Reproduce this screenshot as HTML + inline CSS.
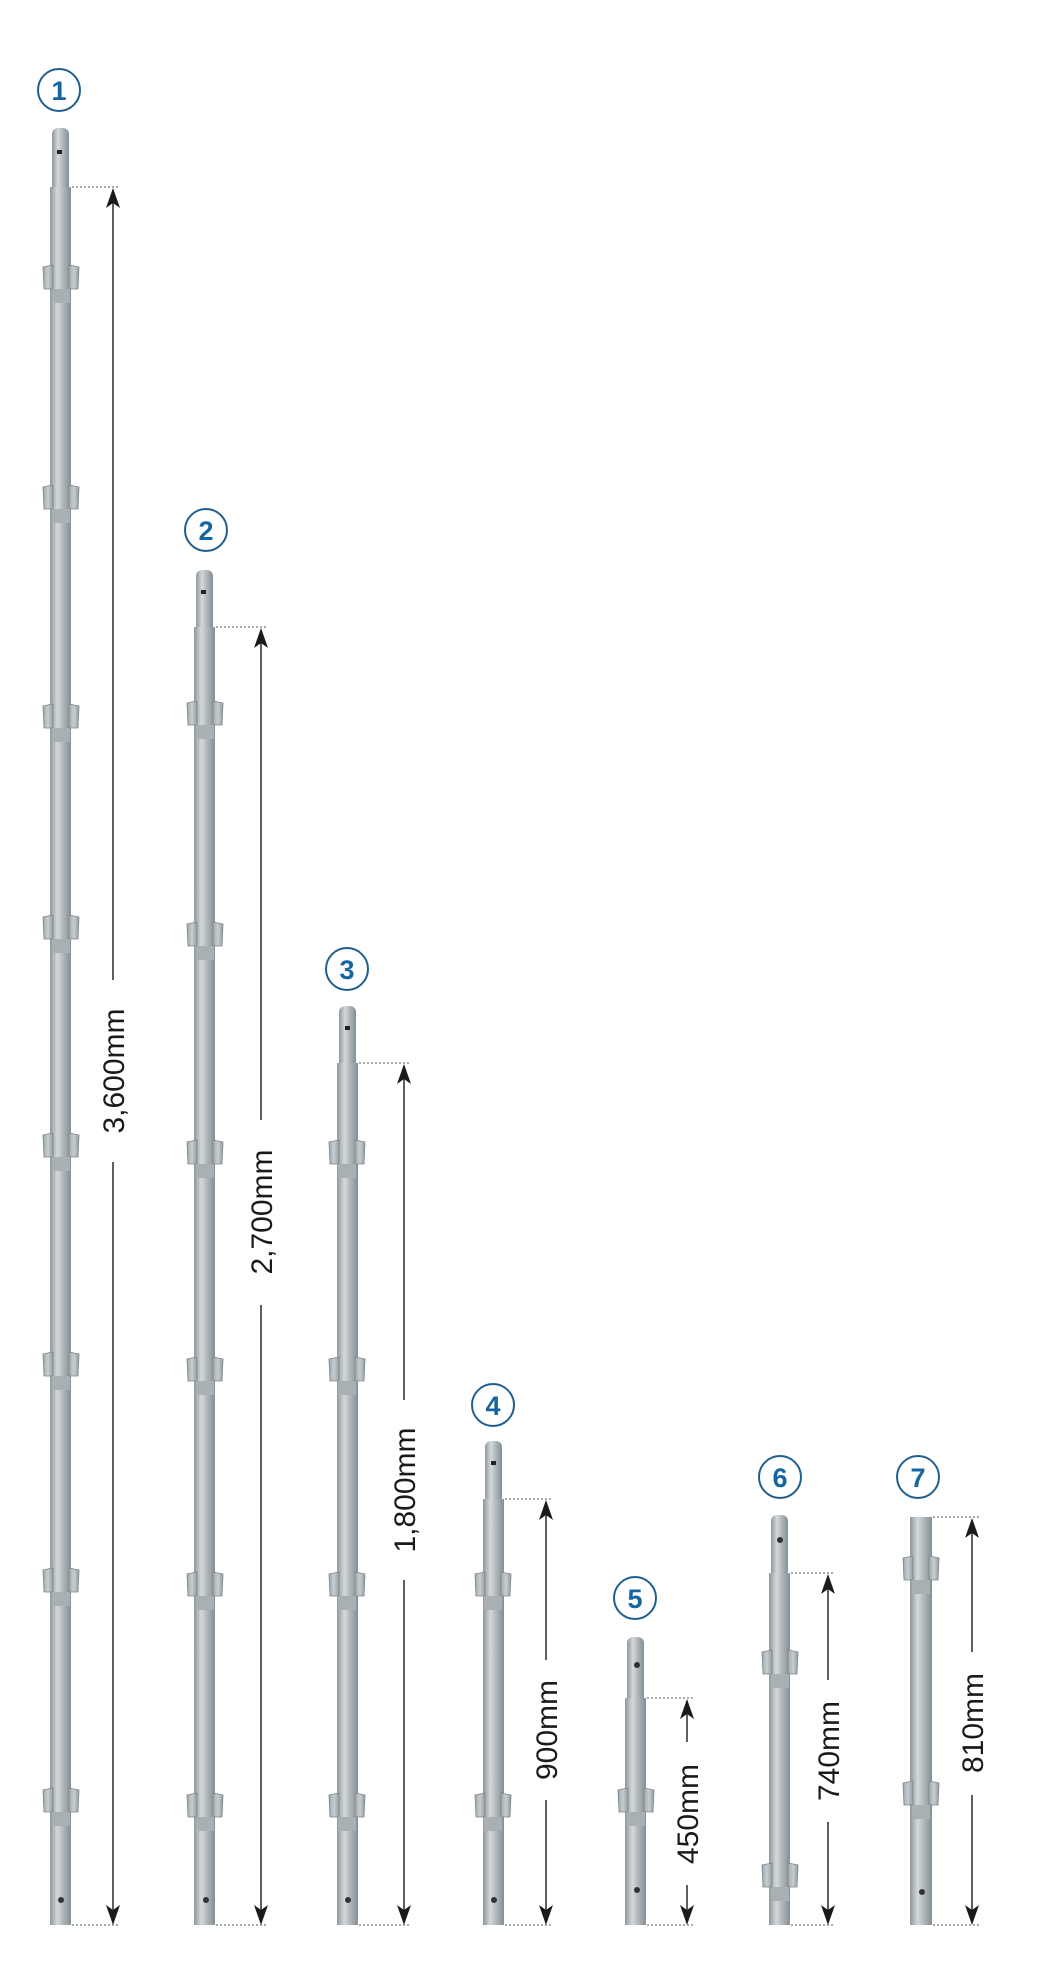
<!DOCTYPE html>
<html><head><meta charset="utf-8"><style>
html,body{margin:0;padding:0;background:#fff;}
svg{display:block;}
.lbl{font-family:"Liberation Sans",sans-serif;font-size:30px;fill:#1a1a1a;}
.num{font-family:"Liberation Sans",sans-serif;font-size:27px;font-weight:bold;fill:#1565a0;}
</style></head><body>
<svg width="1044" height="1969" viewBox="0 0 1044 1969" xmlns="http://www.w3.org/2000/svg">
<defs>
<linearGradient id="g" x1="0" x2="1" y1="0" y2="0">
<stop offset="0" stop-color="#8f989d"/><stop offset="0.35" stop-color="#d3d8db"/><stop offset="0.6" stop-color="#b3babe"/><stop offset="1" stop-color="#858e93"/>
</linearGradient>
<linearGradient id="c" x1="0" x2="1" y1="0" y2="0">
<stop offset="0" stop-color="#a0a8ac"/><stop offset="0.5" stop-color="#c7cdd0"/><stop offset="1" stop-color="#959da1"/>
</linearGradient>
<g id="col">
<polygon points="-18,-10 -8,-12 -8,12 -17,12" fill="url(#c)" stroke="#7c8589" stroke-width="0.8"/>
<polygon points="18,-10 8,-12 8,12 17,12" fill="url(#c)" stroke="#7c8589" stroke-width="0.8"/>
<rect x="-9" y="12" width="18" height="14" fill="#a9b0b4"/>
</g>
<g id="up"><polygon points="0,0 -7,20 0,15 7,20" fill="#1a1a1a"/></g>
<g id="dn"><polygon points="0,0 -7,-20 0,-15 7,-20" fill="#1a1a1a"/></g>
</defs>

<g fill="none" stroke="#1f5f8f" stroke-width="2">
<circle cx="59" cy="90" r="21"/><circle cx="206" cy="530" r="21"/><circle cx="347" cy="969" r="21"/>
<circle cx="493" cy="1405" r="21"/><circle cx="635" cy="1598" r="21"/><circle cx="780" cy="1477" r="21"/><circle cx="918" cy="1477" r="21"/>
</g>
<g class="num" text-anchor="middle">
<text x="59" y="100">1</text><text x="206" y="540">2</text><text x="347" y="979">3</text>
<text x="493" y="1415">4</text><text x="635" y="1608">5</text><text x="780" y="1487">6</text><text x="918" y="1487">7</text>
</g>

<!-- Pole 1 -->
<rect x="52" y="128" width="17" height="70" rx="6" fill="url(#g)"/>
<rect x="50" y="187" width="21" height="1738" fill="url(#g)"/>
<rect x="57" y="150" width="5" height="4" fill="#222"/>
<circle cx="61" cy="1900" r="3" fill="#333"/>
<g transform="translate(61,0)"><use href="#col" y="277"/><use href="#col" y="497"/><use href="#col" y="716"/><use href="#col" y="927"/><use href="#col" y="1145"/><use href="#col" y="1364"/><use href="#col" y="1580"/><use href="#col" y="1800"/></g>

<!-- Pole 2 -->
<rect x="196" y="570" width="17" height="62" rx="6" fill="url(#g)"/>
<rect x="194" y="627" width="21" height="1298" fill="url(#g)"/>
<rect x="201" y="590" width="5" height="4" fill="#222"/>
<circle cx="206" cy="1900" r="3" fill="#333"/>
<g transform="translate(205,0)"><use href="#col" y="713"/><use href="#col" y="934"/><use href="#col" y="1152"/><use href="#col" y="1369"/><use href="#col" y="1584"/><use href="#col" y="1805"/></g>

<!-- Pole 3 -->
<rect x="339" y="1006" width="17" height="62" rx="6" fill="url(#g)"/>
<rect x="337" y="1063" width="21" height="862" fill="url(#g)"/>
<rect x="345" y="1026" width="5" height="4" fill="#222"/>
<circle cx="348" cy="1900" r="3" fill="#333"/>
<g transform="translate(347,0)"><use href="#col" y="1152"/><use href="#col" y="1369"/><use href="#col" y="1584"/><use href="#col" y="1805"/></g>

<!-- Pole 4 -->
<rect x="485" y="1441" width="17" height="62" rx="6" fill="url(#g)"/>
<rect x="483" y="1499" width="21" height="426" fill="url(#g)"/>
<rect x="491" y="1461" width="5" height="4" fill="#222"/>
<circle cx="494" cy="1900" r="3" fill="#333"/>
<g transform="translate(493,0)"><use href="#col" y="1584"/><use href="#col" y="1805"/></g>

<!-- Pole 5 -->
<rect x="627" y="1637" width="17" height="66" rx="6" fill="url(#g)"/>
<rect x="625" y="1698" width="21" height="227" fill="url(#g)"/>
<circle cx="637" cy="1665" r="3" fill="#333"/>
<circle cx="637" cy="1890" r="3" fill="#333"/>
<g transform="translate(636,0)"><use href="#col" y="1800"/></g>

<!-- Pole 6 -->
<rect x="771" y="1515" width="17" height="62" rx="6" fill="url(#g)"/>
<rect x="769" y="1573" width="21" height="352" fill="url(#g)"/>
<circle cx="780" cy="1540" r="3" fill="#333"/>
<g transform="translate(780,0)"><use href="#col" y="1662"/><use href="#col" y="1875"/></g>

<!-- Pole 7 -->
<rect x="910" y="1517" width="22" height="408" fill="url(#g)"/>
<circle cx="922" cy="1892" r="3" fill="#333"/>
<g transform="translate(921,0)"><use href="#col" y="1568"/><use href="#col" y="1793"/></g>

<!-- dimension lines -->
<g stroke="#555" stroke-width="1" stroke-dasharray="2,2">
<line x1="72" y1="187" x2="120" y2="187"/><line x1="72" y1="1925" x2="120" y2="1925"/>
<line x1="216" y1="627" x2="268" y2="627"/><line x1="216" y1="1925" x2="268" y2="1925"/>
<line x1="359" y1="1063" x2="411" y2="1063"/><line x1="359" y1="1925" x2="411" y2="1925"/>
<line x1="505" y1="1499" x2="553" y2="1499"/><line x1="505" y1="1925" x2="553" y2="1925"/>
<line x1="647" y1="1698" x2="694" y2="1698"/><line x1="647" y1="1925" x2="694" y2="1925"/>
<line x1="791" y1="1573" x2="835" y2="1573"/><line x1="791" y1="1925" x2="835" y2="1925"/>
<line x1="933" y1="1517" x2="979" y2="1517"/><line x1="933" y1="1925" x2="979" y2="1925"/>
</g>
<g stroke="#1a1a1a" stroke-width="1.4">
<line x1="113" y1="190" x2="113" y2="980"/><line x1="113" y1="1162" x2="113" y2="1922"/>
<line x1="261" y1="630" x2="261" y2="1120"/><line x1="261" y1="1305" x2="261" y2="1922"/>
<line x1="404" y1="1066" x2="404" y2="1400"/><line x1="404" y1="1580" x2="404" y2="1922"/>
<line x1="546" y1="1502" x2="546" y2="1660"/><line x1="546" y1="1800" x2="546" y2="1922"/>
<line x1="687" y1="1701" x2="687" y2="1742"/><line x1="687" y1="1885" x2="687" y2="1922"/>
<line x1="828" y1="1576" x2="828" y2="1680"/><line x1="828" y1="1822" x2="828" y2="1922"/>
<line x1="972" y1="1520" x2="972" y2="1652"/><line x1="972" y1="1795" x2="972" y2="1922"/>
</g>
<g>
<use href="#up" x="113" y="188"/><use href="#dn" x="113" y="1925"/>
<use href="#up" x="261" y="628"/><use href="#dn" x="261" y="1925"/>
<use href="#up" x="404" y="1064"/><use href="#dn" x="404" y="1925"/>
<use href="#up" x="546" y="1500"/><use href="#dn" x="546" y="1925"/>
<use href="#up" x="687" y="1699"/><use href="#dn" x="687" y="1925"/>
<use href="#up" x="828" y="1574"/><use href="#dn" x="828" y="1925"/>
<use href="#up" x="972" y="1518"/><use href="#dn" x="972" y="1925"/>
</g>
<g class="lbl" text-anchor="middle">
<text transform="translate(124,1071) rotate(-90)">3,600mm</text>
<text transform="translate(272,1212) rotate(-90)">2,700mm</text>
<text transform="translate(415,1490) rotate(-90)">1,800mm</text>
<text transform="translate(557,1730) rotate(-90)">900mm</text>
<text transform="translate(698,1814) rotate(-90)">450mm</text>
<text transform="translate(839,1751) rotate(-90)">740mm</text>
<text transform="translate(983,1723) rotate(-90)">810mm</text>
</g>
</svg>
</body></html>
